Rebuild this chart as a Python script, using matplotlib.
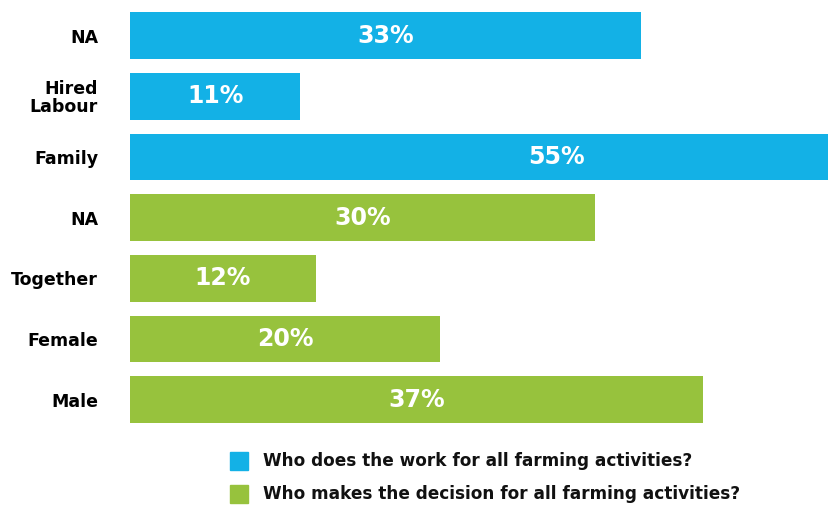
import matplotlib
matplotlib.use("Agg")
import matplotlib.pyplot as plt
from matplotlib.patches import Rectangle

# Survey responses, listed from top to bottom
categories = ["NA", "Hired\nLabour", "Family", "NA", "Together", "Female", "Male"]
values = [33, 11, 55, 30, 12, 20, 37]
groups = ["work", "work", "work", "decision", "decision", "decision", "decision"]

series_names = {
    "work": "Who does the work for all farming activities?",
    "decision": "Who makes the decision for all farming activities?",
}
colors = {"work": "#13B1E6", "decision": "#97C23D"}

plt.rcParams["font.family"] = ["DejaVu Sans"]

W, H = 829, 505
fig = plt.figure(figsize=(W / 100, H / 100), dpi=100)

# axes spans from the bar start to the right edge of the figure
top_px, bottom_px = 5.2, 429.9
ax = fig.add_axes([130 / W, 1 - bottom_px / H, 1 - 130 / W, (bottom_px - top_px) / H])

n = len(categories)
ypos = [n - 1 - i for i in range(n)]
bar_colors = [colors[g] for g in groups]
ax.barh(ypos, values, height=0.77, color=bar_colors, clip_on=True)

for y, v in zip(ypos, values):
    ax.text(v / 2, y, f"{v}%", ha="center", va="center", color="white",
            fontsize=17, fontweight="bold", clip_on=False)

ax.set_xlim(0, 699 / 15.5)
ax.set_ylim(-0.5, n - 0.5)
ax.set_yticks(ypos)
ax.set_yticklabels(categories, fontsize=12.5, fontweight="bold", linespacing=0.95)
ax.tick_params(axis="y", length=0, pad=23)
ax.set_xticks([])
for s in ax.spines.values():
    s.set_visible(False)

# legend drawn as swatches with text
legend_rows = [("work", 461), ("decision", 494)]
for key, cy in legend_rows:
    fig.add_artist(Rectangle((230 / W, 1 - (cy + 9) / H), 18 / W, 18 / H,
                             transform=fig.transFigure, color=colors[key]))
    fig.text(263 / W, 1 - cy / H, series_names[key], ha="left", va="center",
             fontsize=12.2, fontweight="bold", color="#111111")

fig.savefig("out.png", dpi=100)
